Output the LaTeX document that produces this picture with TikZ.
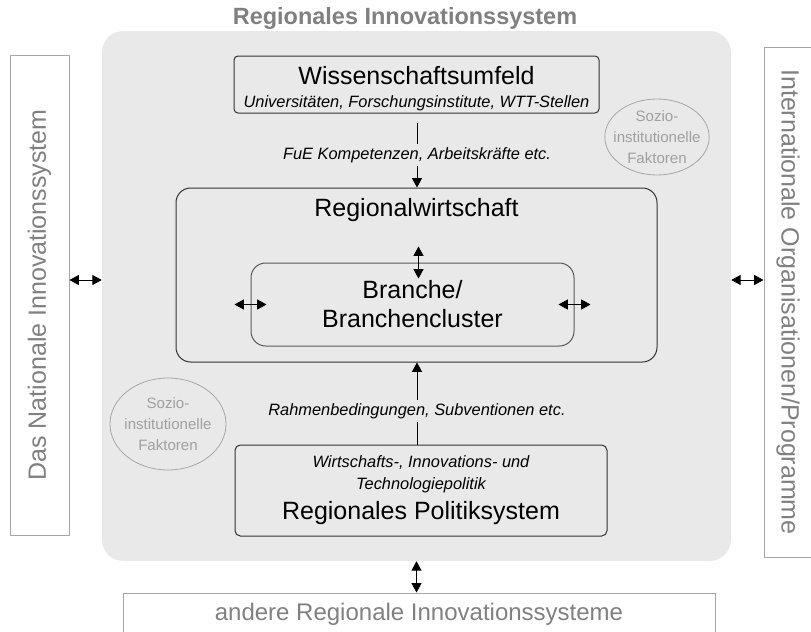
\documentclass[tikz,border=0pt]{standalone}
\usepackage{fontspec}
\setmainfont{Liberation Sans}
\usetikzlibrary{positioning,calc,arrows.meta,shapes.geometric}
\definecolor{risgray}{RGB}{233,233,233}
\definecolor{sidegray}{RGB}{166,166,166}
\definecolor{txtgray}{RGB}{128,128,128}
\definecolor{sozgray}{RGB}{160,160,160}

\begin{document}
\begin{tikzpicture}[x=0.75pt,y=-0.75pt,>={Triangle[length=7pt,width=7.5pt]},
          font=\fontsize{12.3}{15}\selectfont,
          ris/.style ={fill=risgray,rounded corners=16pt,inner sep=0pt},
          side/.style={draw=sidegray,line width=0.75pt,text=txtgray,inner sep=0pt,font=\fontsize{18.75}{22}\selectfont},
          box/.style ={draw=black!80,line width=0.75pt,align=center,inner sep=0pt},
          big/.style ={font=\fontsize{18.75}{22}\selectfont},
          lbl/.style ={font=\fontsize{12.3}{15}\selectfont\itshape,inner sep=2.5pt},
          soz/.style ={ellipse,draw=sidegray,line width=0.6pt,text=sozgray,align=center,
                       inner xsep=-5pt,inner ysep=-2pt,font=\fontsize{11.3}{15.5}\selectfont},
          dbl/.style ={<->,line width=0.6pt}]
        \useasboundingbox (0,0) rectangle (811,632);
        % region and its surroundings
        \node[ris,minimum width=471.75pt,minimum height=397.5pt] (ris) at (416.5,296) {};
        \node[text=txtgray,font=\fontsize{17.6}{20}\selectfont\bfseries] (title) at (405,18) {Regionales Innovationssystem};
        \node[side,rotate=90,minimum width=360pt,minimum height=44.25pt] (nat) at (39.5,295) {Das Nationale Innovationssystem};
        \node[side,rotate=-90,minimum width=382.5pt,minimum height=36pt] (int) at (788,302) {Internationale Organisationen/Programme};
        \node[side,minimum width=444pt,minimum height=32.25pt,font=\fontsize{18}{22}\selectfont] (oth) at (419,614.5) {andere Regionale Innovationssysteme};
        % inner boxes
        \node[box,rounded corners=3pt,minimum width=273.75pt,minimum height=42.75pt] (wiss) at (416.5,84.5) {};
        \node[big] (wisst) at (416.5,76) {Wissenschaftsumfeld};
        \node[lbl,inner sep=0pt] (wissu) at (416.5,103) {Universitäten, Forschungsinstitute, WTT-Stellen};
        \node[box,rounded corners=11pt,minimum width=360.75pt,minimum height=130.5pt] (rw) at (416.5,275) {};
        \node[big] (rwt) at (416.5,210) {Regionalwirtschaft};
        \node[box,draw=black!65,rounded corners=11pt,minimum width=242.25pt,minimum height=62.25pt,
              font=\fontsize{18.75}{21.75}\selectfont] (br) at (412.5,304.5) {Branche/\\Branchencluster};
        \node[box,rounded corners=4pt,minimum width=279pt,minimum height=68.25pt] (pol) at (421,490.5)
             {{\itshape Wirtschafts-, Innovations- und}\\[1.5pt]{\itshape Technologiepolitik}\\[5.5pt]{\fontsize{18.75}{22}\selectfont Regionales Politiksystem}};
        % socio-institutional factors
        \node[soz,minimum width=76.5pt,minimum height=57pt] (soz1) at (657,137) {Sozio-\\institutionelle\\Faktoren};
        \node[soz,minimum width=87pt,minimum height=69pt] (soz2) at (168,424) {Sozio-\\institutionelle\\Faktoren};
        % flows
        \node[lbl] (fue) at (417,155) {FuE Kompetenzen, Arbeitskräfte etc.};
        \node[lbl] (rahm) at (417,411) {Rahmenbedingungen, Subventionen etc.};
        \draw[line width=0.6pt] (fue.north |- wiss.south) ++(0,9) -- (fue.north);
        \draw[->,line width=0.6pt] (fue.south) -- (fue.south |- rw.north);
        \draw[line width=0.6pt] (rahm.south |- pol.north) -- (rahm.south);
        \draw[->,line width=0.6pt] (rahm.north) -- (rahm.north |- rw.south);
        % exchanges
        \draw[dbl] ([xshift=4.5pt,yshift=12pt]br.north) -- ([xshift=4.5pt,yshift=-12pt]br.north);
        \draw[dbl] ([xshift=-12pt]br.west) -- ([xshift=12pt]br.west);
        \draw[dbl] ([xshift=-12pt]br.east) -- ([xshift=12pt]br.east);
        \draw[dbl] ([yshift=12pt]ris.west -| nat.south) -- ([yshift=12pt]ris.west);
        \draw[dbl] ([yshift=12pt]ris.east) -- ([yshift=12pt]ris.east -| int.south);
        \draw[dbl] (ris.south) -- (ris.south |- oth.north);
      \end{tikzpicture}
\end{document}
